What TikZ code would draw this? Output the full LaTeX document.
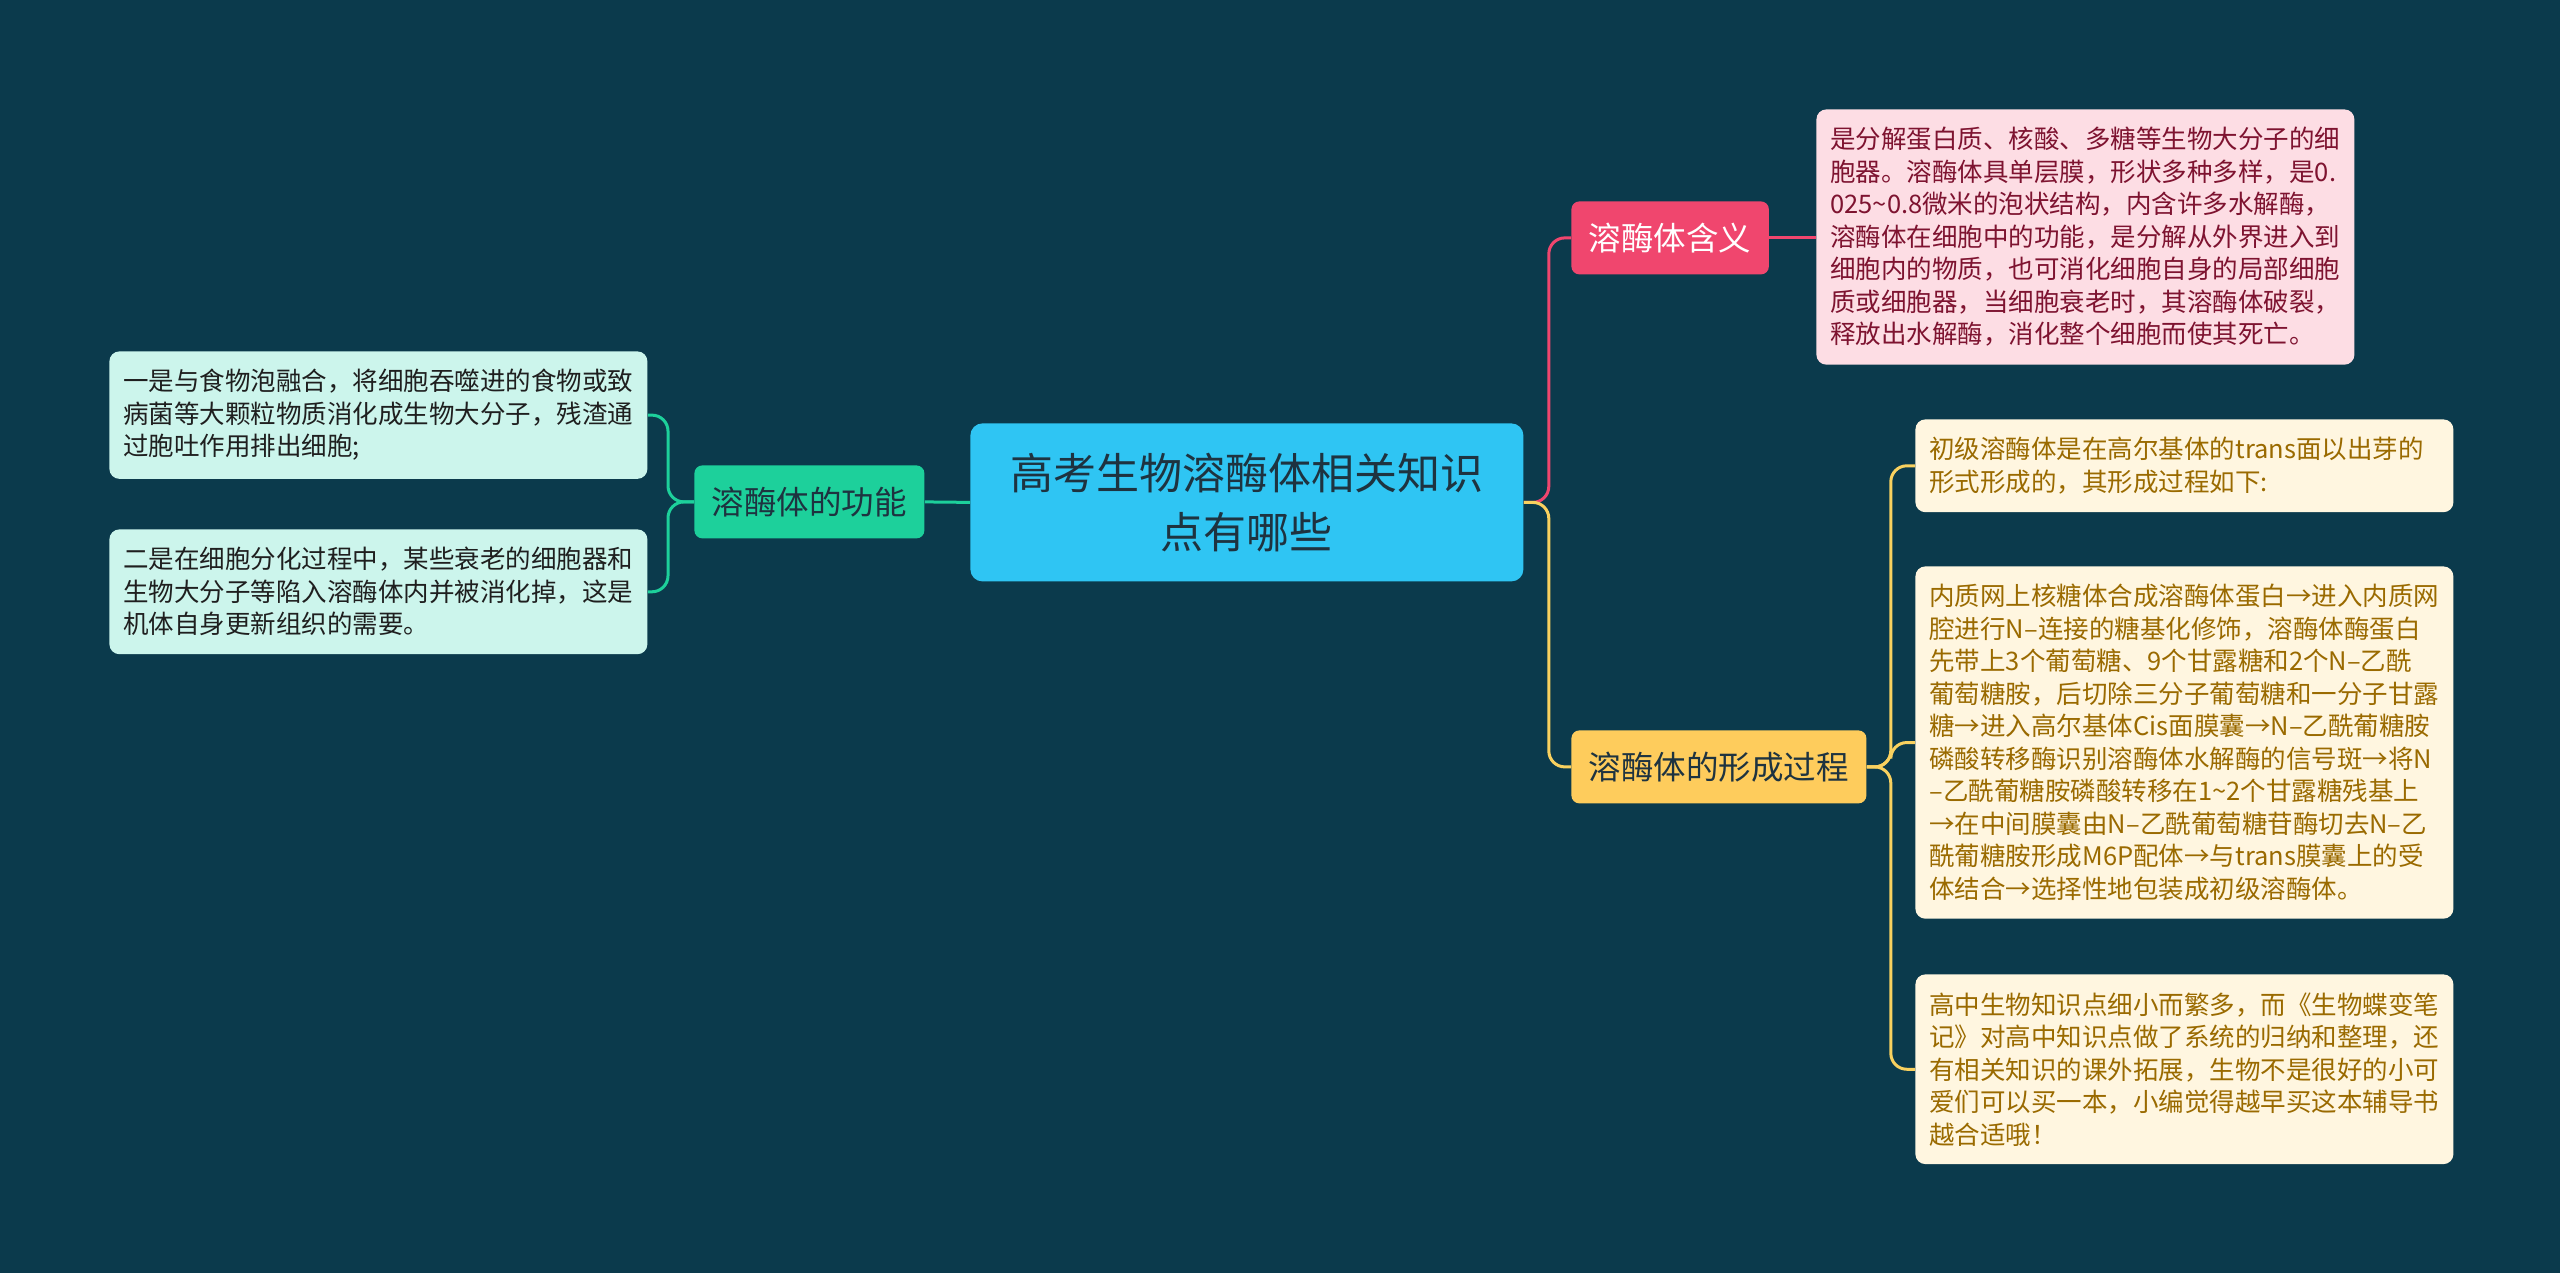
\documentclass[tikz,border=0pt]{standalone}
\usepackage{fontspec}
\setmainfont{Noto Sans CJK SC}
\usepackage{tikz}
\usetikzlibrary{positioning}
\definecolor{bgcol}{HTML}{0B3A4C}
\definecolor{rootblue}{HTML}{2FC5F3}
\definecolor{darktext}{HTML}{1E3340}
\definecolor{mintgreen}{HTML}{1DD09B}
\definecolor{mintleaf}{HTML}{CCF5EC}
\definecolor{rosered}{HTML}{F0466E}
\definecolor{roseleaf}{HTML}{FDDDE4}
\definecolor{rosetext}{HTML}{7E1330}
\definecolor{sunyellow}{HTML}{FECC5C}
\definecolor{sunline}{HTML}{F9D15F}
\definecolor{sunleaf}{HTML}{FFF6E0}
\definecolor{suntext}{HTML}{9A6A00}

\begin{document}
\begin{tikzpicture}[x=0.5pt,y=-0.5pt,
  topic/.style={rounded corners=4pt,inner xsep=8.75pt,minimum height=36.5pt,anchor=north west,font=\fontsize{16.25pt}{20pt}\selectfont},
  leaf/.style={rounded corners=5pt,inner xsep=7pt,inner ysep=9pt,text width=255pt,align=left,anchor=north west,font=\fontsize{12.75pt}{16.25pt}\selectfont},
  link/.style={line width=1.5pt,rounded corners=8pt}]
  \fill[bgcol] (0,0) rectangle (2560,1273);
  % ---------------- centre ----------------
  \node[fill=rootblue,text=darktext,rounded corners=6pt,minimum width=276.5pt,minimum height=79pt,anchor=north west,align=center,font=\fontsize{21.5pt}{29.5pt}\selectfont] (root) at (970,423) {高考生物溶酶体相关知识\\点有哪些};
  % ---------------- left: function ----------------
  \node[topic,fill=mintgreen,text=darktext] (func) at (694,465) {溶酶体的功能};
  \node[leaf,fill=mintleaf,text=black!88] (fn1) at (109,351) {一是与食物泡融合，将细胞吞噬进的食物或致\\病菌等大颗粒物质消化成生物大分子，残渣通\\过胞吐作用排出细胞;};
  \node[leaf,fill=mintleaf,text=black!88] (fn2) at (109,529) {二是在细胞分化过程中，某些衰老的细胞器和\\生物大分子等陷入溶酶体内并被消化掉，这是\\机体自身更新组织的需要。};
  \draw[link,mintgreen] (root.west) -- (func.east);
  \draw[link,mintgreen] (func.west) -- ++(-26,0) |- (fn1.east);
  \draw[link,mintgreen] (func.west) -- ++(-26,0) |- (fn2.east);
  % ---------------- right: meaning ----------------
  \node[topic,fill=rosered,text=white] (mean) at (1571,201) {溶酶体含义};
  \node[leaf,fill=roseleaf,text=rosetext] (meandesc) at (1816,109) {是分解蛋白质、核酸、多糖等生物大分子的细\\胞器。溶酶体具单层膜，形状多种多样，是0.\\025\textasciitilde0.8微米的泡状结构，内含许多水解酶，\\溶酶体在细胞中的功能，是分解从外界进入到\\细胞内的物质，也可消化细胞自身的局部细胞\\质或细胞器，当细胞衰老时，其溶酶体破裂，\\释放出水解酶，消化整个细胞而使其死亡。};
  \draw[link,rosered] (root.east) -- ++(25,0) |- (mean.west);
  \draw[link,rosered] (mean.east) -- (mean.east -| meandesc.west);
  % ---------------- right: formation ----------------
  \node[topic,fill=sunyellow,text=darktext] (proc) at (1571,730) {溶酶体的形成过程};
  \node[leaf,fill=sunleaf,text=suntext] (pr1) at (1915,419) {初级溶酶体是在高尔基体的trans面以出芽的\\形式形成的，其形成过程如下:};
  \node[leaf,fill=sunleaf,text=suntext] (pr2) at (1915,566) {内质网上核糖体合成溶酶体蛋白→进入内质网\\腔进行N–连接的糖基化修饰，溶酶体酶蛋白\\先带上3个葡萄糖、9个甘露糖和2个N–乙酰\\葡萄糖胺，后切除三分子葡萄糖和一分子甘露\\糖→进入高尔基体Cis面膜囊→N–乙酰葡糖胺\\磷酸转移酶识别溶酶体水解酶的信号斑→将N\\–乙酰葡糖胺磷酸转移在1\textasciitilde2个甘露糖残基上\\→在中间膜囊由N–乙酰葡萄糖苷酶切去N–乙\\酰葡糖胺形成M6P配体→与trans膜囊上的受\\体结合→选择性地包装成初级溶酶体。};
  \node[leaf,fill=sunleaf,text=suntext] (pr3) at (1915,974) {高中生物知识点细小而繁多，而《生物蝶变笔\\记》对高中知识点做了系统的归纳和整理，还\\有相关知识的课外拓展，生物不是很好的小可\\爱们可以买一本，小编觉得越早买这本辅导书\\越合适哦！};
  \draw[link,sunline] (root.east) -- ++(25,0) |- (proc.west);
  \draw[link,sunline] (proc.east) -- ++(24,0) |- (pr1.west);
  \draw[link,sunline] (proc.east) -- ++(24,0) |- (pr2.west);
  \draw[link,sunline] (proc.east) -- ++(24,0) |- (pr3.west);
\end{tikzpicture}
\end{document}
